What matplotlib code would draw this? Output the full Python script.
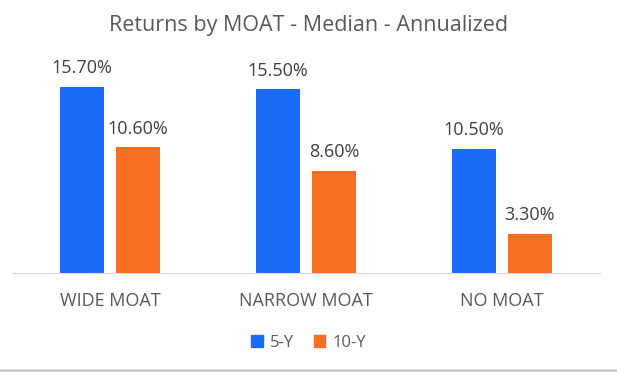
import numpy as np
import matplotlib.pyplot as plt
from matplotlib.lines import Line2D
from matplotlib.patches import Patch

categories = ['WIDE MOAT', 'NARROW MOAT', 'NO MOAT']
five_y = [15.7, 15.5, 10.5]
ten_y = [10.6, 8.6, 3.3]
series = ['5-Y', '10-Y']

blue = '#1a6cf8'
orange = '#f76e24'

plt.rcParams['font.family'] = ['Open Sans', 'DejaVu Sans']

fig = plt.figure(figsize=(6.17, 3.72), dpi=100)
ax = fig.add_axes([0.0194, 0.266, 0.953, 0.5734])

x = np.arange(len(categories))
w = 0.22
off = 0.143
b1 = ax.bar(x - off, five_y, w, color=blue)
b2 = ax.bar(x + off, ten_y, w, color=orange)

for bars, vals in [(b1, five_y), (b2, ten_y)]:
    for b, v in zip(bars, vals):
        ax.annotate(f'{v:.2f}%', (b.get_x() + b.get_width() / 2, v),
                    xytext=(0, 7), textcoords='offset points',
                    ha='center', va='bottom', fontsize=13, color='#404040')

ax.set_xlim(-0.5, 2.5)
ax.set_ylim(0, 18)
ax.set_yticks([])
ax.set_xticks(x)
ax.set_xticklabels(categories, fontsize=13, color='#595959')
ax.tick_params(axis='x', length=0, pad=14)
for s in ['top', 'right', 'left']:
    ax.spines[s].set_visible(False)
ax.spines['bottom'].set_color('#d9d9d9')

fig.text(0.5, 1 - 26 / 372, 'Returns by MOAT - Median - Annualized',
         ha='center', va='center', fontsize=15.5, color='#595959')

handles = [Patch(color=blue, label=series[0]), Patch(color=orange, label=series[1])]
fig.legend(handles=handles, loc='center', bbox_to_anchor=(0.5, 0.078), ncol=2,
           frameon=False, fontsize=12, handlelength=0.7, handleheight=0.7,
           handletextpad=0.4, columnspacing=1.2, labelcolor='#595959')

fig.add_artist(Line2D([0, 1], [0.006, 0.006], color='#d0d0d0', lw=2))

fig.savefig('out.png', dpi=100)
